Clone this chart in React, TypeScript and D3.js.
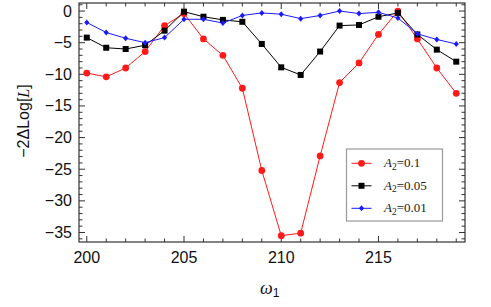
import React from 'react';
import * as d3 from 'd3';

const omega = d3.range(200, 220);
const seriesA01 = [-9.8, -10.4, -9.0, -6.4, -2.3, -0.4, -4.4, -7.0, -12.2, -25.2, -35.5, -35.1, -22.9, -11.3, -8.2, -3.7, 0, -4.4, -9.0, -13.0];
const seriesA005 = [-4.2, -5.8, -6.0, -5.4, -3.1, -0.1, -0.9, -1.4, -1.7, -5.2, -8.9, -10.1, -6.4, -2.3, -2.2, -0.9, -0.3, -3.7, -6.1, -8.0];
const seriesA001 = [-1.8, -3.4, -4.3, -5.0, -4.2, -1.3, -1.3, -1.9, -0.7, -0.3, -0.5, -1.2, -0.7, 0, -0.4, -0.2, -1.1, -3.6, -4.5, -5.2];
const xTicks = [200, 205, 210, 215];
const yTicks = [0, -5, -10, -15, -20, -25, -30, -35];
const legendLabels = ['0.1', '0.05', '0.01'];

const W = 491, H = 307;
const left = 79, right = 465, top = 3, bottom = 242;

const series = [
  { values: seriesA01, color: '#ff1a1a', marker: 'circle' },
  { values: seriesA005, color: '#000000', marker: 'square' },
  { values: seriesA001, color: '#1a1aff', marker: 'diamond' },
];

function Marker({ type, x, y, color }: { type: string; x: number; y: number; color: string }) {
  if (type === 'circle') return <circle cx={x} cy={y} r={3.4} fill={color} />;
  if (type === 'square') return <rect x={x - 3} y={y - 3} width={6} height={6} fill={color} />;
  return <path d={`M${x},${y - 3}L${x + 2.6},${y}L${x},${y + 3}L${x - 2.6},${y}Z`} fill={color} />;
}

export default function App() {
  const x = d3.scaleLinear().domain([199.6, 219.45]).range([left, right]);
  const y = d3.scaleLinear().domain([-36.5, 1.27]).range([bottom, top]);
  const line = d3.line<number>().x((d, i) => x(omega[i])).y((d) => y(d));

  const xMinor = d3.range(200, 220);
  const yMinor = d3.range(-36, 2);
  const frame = '#333';
  const tickFont = "'Liberation Sans', Arial, sans-serif";

  return (
    <svg width={W} height={H} style={{ position: 'absolute', left: 0, top: 0 }}>
      <rect width={W} height={H} fill="white" />
      {/* ticks */}
      <g stroke={frame} strokeWidth={1}>
        {xMinor.map((v) => {
          const len = v % 5 === 0 ? 6 : 3.5;
          return (
            <g key={'xt' + v}>
              <line x1={x(v)} x2={x(v)} y1={bottom} y2={bottom - len} />
              <line x1={x(v)} x2={x(v)} y1={top} y2={top + len} />
            </g>
          );
        })}
        {yMinor.map((v) => {
          const len = v % 5 === 0 ? 6 : 3.5;
          return (
            <g key={'yt' + v}>
              <line x1={left} x2={left + len} y1={y(v)} y2={y(v)} />
              <line x1={right} x2={right - len} y1={y(v)} y2={y(v)} />
            </g>
          );
        })}
      </g>
      <rect x={left} y={top} width={right - left} height={bottom - top} fill="none" stroke={frame} strokeWidth={1.2} />
      {/* tick labels */}
      {xTicks.map((v) => (
        <text key={'xl' + v} x={x(v)} y={263} textAnchor="middle" fontFamily={tickFont} fontSize={16} fill="#111">
          {v}
        </text>
      ))}
      {yTicks.map((v) => (
        <text key={'yl' + v} x={72} y={y(v) + 5.5} textAnchor="end" fontFamily={tickFont} fontSize={16} fill="#111">
          {v < 0 ? '\u2212' + Math.abs(v) : v}
        </text>
      ))}
      {/* axis labels */}
      <text transform="translate(29,121) rotate(-90)" textAnchor="middle" fontFamily={tickFont} fontSize={16} fill="#111">
        {'\u22122\u0394Log['}
        <tspan fontFamily="'Liberation Serif', serif" fontStyle="italic">L</tspan>
        {']'}
      </text>
      <text x={260} y={294} fontFamily="'Liberation Serif', serif" fontStyle="italic" fontSize={18} fill="#111">
        {'\u03c9'}
        <tspan fontStyle="normal" fontFamily={tickFont} fontSize={12} dy={3}>1</tspan>
      </text>
      {/* series */}
      {series.map((s, si) => (
        <g key={'s' + si}>
          <path d={line(s.values) || ''} fill="none" stroke={s.color} strokeWidth={1} />
          {s.values.map((v, i) => (
            <Marker key={i} type={s.marker} x={x(omega[i])} y={y(v)} color={s.color} />
          ))}
        </g>
      ))}
      {/* legend */}
      <rect x={346.5} y={149} width={96} height={72} fill="white" stroke="#999" strokeWidth={1.2} />
      {series.map((s, i) => {
        const ly = 163.3 + i * 22.5;
        return (
          <g key={'lg' + i}>
            <line x1={351.5} x2={371.5} y1={ly} y2={ly} stroke={s.color} strokeWidth={1} />
            <Marker type={s.marker} x={361.5} y={ly} color={s.color} />
            <text x={384} y={ly + 4} fontFamily="'Liberation Serif', serif" fontSize={13} fill="#222">
              <tspan fontStyle="italic">A</tspan>
              <tspan fontSize={9.5} dy={2.5}>2</tspan>
              <tspan dy={-2.5}>={legendLabels[i]}</tspan>
            </text>
          </g>
        );
      })}
    </svg>
  );
}
